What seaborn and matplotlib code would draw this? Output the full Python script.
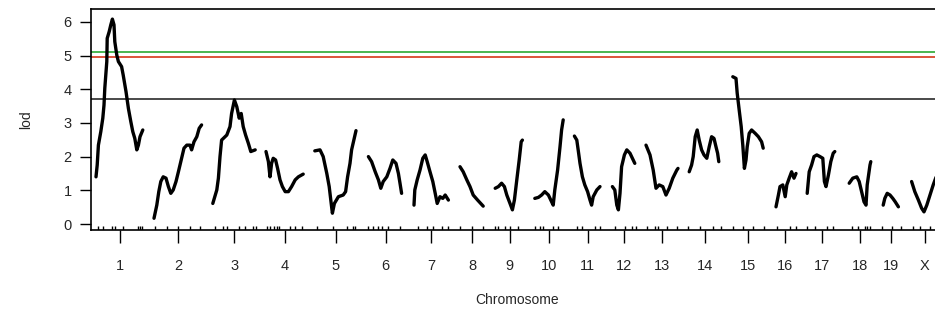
import numpy as np
import pandas as pd
import matplotlib
matplotlib.use("Agg")
import matplotlib.pyplot as plt
import seaborn as sns

# ---------------- data ----------------
chrom_names = ['1', '2', '3', '4', '5', '6', '7', '8', '9', '10', '11', '12',
               '13', '14', '15', '16', '17', '18', '19', 'X']
chrom_lengths = [120, 122, 108, 95, 110, 88, 90, 65, 72, 74, 70, 60,
                 81, 83, 83, 54, 79, 60, 48, 70]   # cM
gap = 25  # cM between chromosomes

pos_1 = [0, 3, 6, 12, 17, 20, 22, 27, 28, 33, 37, 41, 45, 47, 52, 56, 64, 68, 75, 81, 87, 92, 97, 102, 106, 110, 117]
lod_1 = [1.40, 1.75, 2.34, 2.74, 3.14, 3.53, 4.03, 4.82, 5.51, 5.71, 5.91, 6.08, 5.91, 5.41, 5.01, 4.82, 4.67, 4.42, 3.93, 3.43, 3.04, 2.74, 2.54, 2.20, 2.34, 2.59, 2.79]
pos_2 = [0, 7, 12, 17, 23, 30, 36, 42, 48, 55, 61, 69, 75, 82, 90, 94, 100, 107, 113, 119]
lod_2 = [0.17, 0.56, 0.96, 1.26, 1.40, 1.36, 1.11, 0.91, 1.01, 1.26, 1.55, 1.95, 2.25, 2.34, 2.34, 2.20, 2.44, 2.59, 2.84, 2.94]
pos_3 = [0, 10, 14, 18, 22, 35, 43, 47, 54, 60, 66, 71, 76, 82, 89, 95, 106]
lod_3 = [0.61, 1.01, 1.36, 2.00, 2.49, 2.64, 2.89, 3.28, 3.68, 3.48, 3.14, 3.28, 2.89, 2.64, 2.39, 2.15, 2.20]
pos_4 = [0, 6, 10, 14, 18, 24, 29, 35, 41, 48, 56, 64, 73, 81, 93]
lod_4 = [2.15, 1.85, 1.40, 1.80, 1.95, 1.90, 1.65, 1.31, 1.11, 0.96, 0.96, 1.11, 1.31, 1.40, 1.48]
pos_5 = [2, 15, 23, 32, 38, 44, 46, 51, 61, 73, 79, 84, 90, 94, 105]
lod_5 = [2.17, 2.20, 2.00, 1.50, 1.11, 0.51, 0.32, 0.61, 0.81, 0.86, 0.96, 1.40, 1.80, 2.20, 2.77]
pos_6 = [1, 9, 18, 26, 32, 38, 47, 55, 62, 70, 76, 80, 84]
lod_6 = [2.00, 1.85, 1.55, 1.31, 1.06, 1.26, 1.40, 1.65, 1.90, 1.80, 1.50, 1.21, 0.91]
pos_7 = [2, 4, 10, 17, 24, 30, 35, 42, 49, 55, 60, 67, 74, 80, 88]
lod_7 = [0.56, 1.01, 1.31, 1.60, 1.95, 2.05, 1.85, 1.55, 1.26, 0.91, 0.61, 0.81, 0.76, 0.86, 0.71]
pos_8 = [2, 10, 19, 27, 35, 46, 60]
lod_8 = [1.70, 1.55, 1.31, 1.11, 0.86, 0.71, 0.53]
pos_9 = [0, 8, 16, 23, 29, 37, 43, 48, 54, 60, 65, 68]
lod_9 = [1.06, 1.11, 1.21, 1.11, 0.86, 0.61, 0.42, 0.71, 1.31, 1.90, 2.44, 2.49]
pos_10 = [2, 11, 19, 27, 36, 42, 48, 52, 59, 65, 69, 73]
lod_10 = [0.76, 0.79, 0.86, 0.96, 0.86, 0.71, 0.56, 1.01, 1.60, 2.29, 2.79, 3.09]
pos_11 = [2, 8, 12, 16, 22, 28, 35, 41, 45, 49, 58, 66]
lod_11 = [2.61, 2.49, 2.15, 1.80, 1.40, 1.16, 0.96, 0.71, 0.56, 0.81, 1.01, 1.11]
pos_12 = [2, 8, 13, 17, 21, 25, 32, 38, 46, 52, 58]
lod_12 = [1.11, 1.01, 0.56, 0.42, 0.91, 1.70, 2.05, 2.20, 2.10, 1.95, 1.80]
pos_13 = [1, 11, 19, 26, 34, 43, 51, 59, 68, 78, 81]
lod_13 = [2.34, 2.05, 1.60, 1.06, 1.16, 1.11, 0.86, 1.06, 1.36, 1.60, 1.65]
pos_14 = [3, 9, 13, 18, 23, 28, 34, 40, 47, 53, 59, 65, 70, 74, 77]
lod_14 = [1.55, 1.75, 2.00, 2.59, 2.79, 2.49, 2.20, 2.05, 1.95, 2.29, 2.59, 2.54, 2.29, 2.10, 1.85]
pos_15 = [4, 12, 15, 20, 25, 29, 33, 37, 40, 45, 51, 60, 68, 76, 80]
lod_15 = [4.37, 4.32, 3.88, 3.38, 2.89, 2.34, 1.65, 1.90, 2.29, 2.69, 2.79, 2.69, 2.59, 2.44, 2.25]
pos_16 = [4, 10, 14, 21, 27, 31, 37, 43, 49, 54]
lod_16 = [0.51, 0.86, 1.11, 1.16, 0.81, 1.16, 1.36, 1.55, 1.36, 1.50]
pos_17 = [3, 8, 14, 20, 27, 35, 42, 46, 50, 56, 62, 68, 72]
lod_17 = [0.91, 1.55, 1.75, 2.00, 2.05, 2.00, 1.95, 1.26, 1.11, 1.45, 1.85, 2.10, 2.15]
pos_18 = [4, 13, 23, 29, 35, 41, 46, 49, 56, 58]
lod_18 = [1.21, 1.36, 1.40, 1.26, 0.96, 0.66, 0.56, 1.16, 1.75, 1.85]
pos_19 = [4, 8, 14, 21, 28, 34, 42]
lod_19 = [0.56, 0.76, 0.91, 0.86, 0.76, 0.66, 0.51]
pos_X = [2, 10, 19, 27, 33, 40, 48, 56, 65]
lod_X = [1.26, 0.96, 0.71, 0.47, 0.36, 0.56, 0.86, 1.16, 1.45]

markers_1 = [6, 17, 39, 48, 67, 106, 110, 114]
markers_2 = [3, 33, 60, 90, 115]
markers_3 = [5, 26, 36, 66, 80, 101, 108]
markers_4 = [2, 10, 20, 27, 33, 60, 73, 89]
markers_5 = [8, 48, 82, 97, 102]
markers_6 = [0, 13, 26, 34, 51, 80]
markers_7 = [13, 34, 50, 71, 88]
markers_8 = [2, 31, 60]
markers_9 = [0, 8, 24, 37, 58]
markers_10 = [2, 15, 23, 48, 61]
markers_11 = [8, 20, 53, 66]
markers_12 = [8, 34, 50, 60]
markers_13 = [3, 24, 32, 53, 78]
markers_14 = [1, 30, 63, 83]
markers_15 = [5, 30, 55, 83]
markers_16 = [6, 39, 54]
markers_17 = [2, 22, 52, 68]
markers_18 = [10, 27, 43, 48, 56]
markers_19 = [0, 25, 48]
markers_X = [6, 23, 48]

thresholds = [5.10, 4.95, 3.71]
threshold_colors = ['#3cb043', '#d9472b', '#3a3a3a']

# ---------------- assemble ----------------
all_pos = [pos_1, pos_2, pos_3, pos_4, pos_5, pos_6, pos_7, pos_8, pos_9, pos_10,
           pos_11, pos_12, pos_13, pos_14, pos_15, pos_16, pos_17, pos_18, pos_19, pos_X]
all_lod = [lod_1, lod_2, lod_3, lod_4, lod_5, lod_6, lod_7, lod_8, lod_9, lod_10,
           lod_11, lod_12, lod_13, lod_14, lod_15, lod_16, lod_17, lod_18, lod_19, lod_X]
all_markers = [markers_1, markers_2, markers_3, markers_4, markers_5, markers_6, markers_7,
               markers_8, markers_9, markers_10, markers_11, markers_12, markers_13,
               markers_14, markers_15, markers_16, markers_17, markers_18, markers_19, markers_X]

offsets = np.concatenate([[0], np.cumsum(np.array(chrom_lengths[:-1]) + gap)])
mids = offsets + np.array(chrom_lengths) / 2.0

rows = []
for name, off, p, l in zip(chrom_names, offsets, all_pos, all_lod):
    for pp, ll in zip(p, l):
        rows.append({'chr': name, 'x': off + pp, 'lod': ll})
df = pd.DataFrame(rows)
marker_x = np.concatenate([off + np.array(m) for off, m in zip(offsets, all_markers)])

# ---------------- plot ----------------
sns.set_style("white")
plt.rcParams['font.family'] = ['Liberation Sans', 'DejaVu Sans']

fig = plt.figure(figsize=(9.35, 3.2), dpi=100)
W, H = 935, 320
ax = fig.add_axes([91 / W, 90 / H, (943.8 - 91) / W, 221 / H])

for t, c in zip(thresholds, threshold_colors):
    ax.axhline(t, color=c, lw=1.3, zorder=1)

sns.lineplot(data=df, x='x', y='lod', units='chr', estimator=None,
             color='black', lw=2.4, ax=ax, sort=False, zorder=3)
sns.rugplot(x=marker_x, height=0.018, color='black', lw=1.0, ax=ax, clip_on=True)

ax.set_xlim(-12.5, 2119.5)
ax.set_ylim(-0.178, 6.38)

ax.set_yticks(range(0, 7))
ax.set_yticklabels([str(i) for i in range(0, 7)])
ax.set_xticks(mids)
ax.set_xticklabels(chrom_names)
ax.tick_params(axis='y', direction='out', length=8, width=1.0, pad=6,
               labelsize=10.5, color='black', left=True)
ax.tick_params(axis='x', direction='out', length=9, width=1.0, pad=12,
               labelsize=10.5, color='black', bottom=True)

for s in ax.spines.values():
    s.set_color('black')
    s.set_linewidth(1.2)

ax.set_xlabel('Chromosome', fontsize=10, labelpad=14)
ax.set_ylabel('lod', fontsize=10, labelpad=22)

fig.savefig('out.png', dpi=100, facecolor='white')
